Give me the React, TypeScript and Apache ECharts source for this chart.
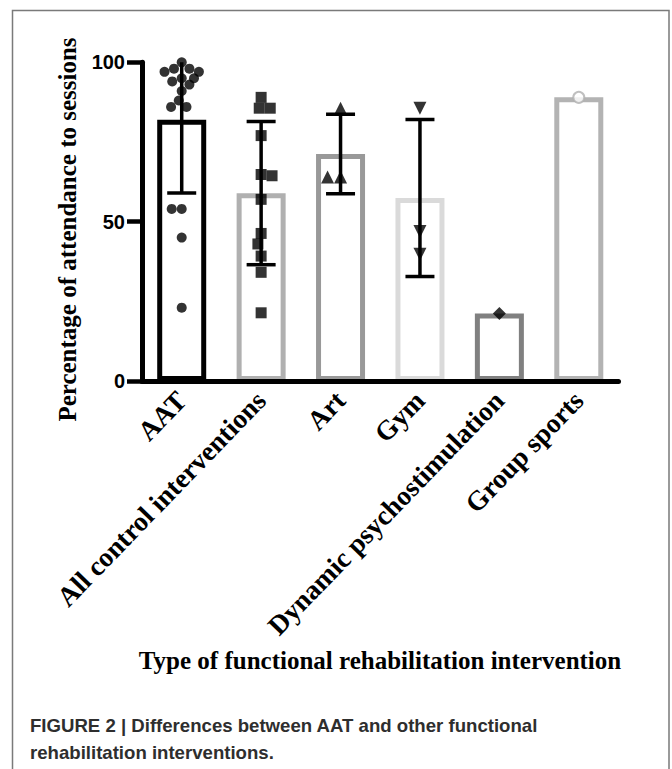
import React, { useEffect, useRef } from "react";
import * as echarts from "echarts";

const categories = [
  "AAT",
  "All control interventions",
  "Art",
  "Gym",
  "Dynamic psychostimulation",
  "Group sports",
];
const aatValues = [100, 98, 98, 97, 97, 95, 95, 94, 93, 91, 88, 86, 86, 54, 54, 45, 23];
const controlValues = [89, 85.6, 85.6, 77, 64.8, 64.4, 57, 46.3, 43, 39.2, 34.1, 21.4];
const artValues = [85.6, 64, 64];
const gymValues = [85.6, 46.9, 39.8];
const dynamicValues = [21.2];
const groupSportsValues = [89];
const yTicks = [0, 50, 100];

const groups = [aatValues, controlValues, artValues, gymValues, dynamicValues, groupSportsValues];
const barColors = ["#000000", "#b0b0b0", "#999999", "#dadada", "#808080", "#b3b3b3"];

const mean = (a: number[]) => a.reduce((s, v) => s + v, 0) / a.length;
const sd = (a: number[]) => {
  if (a.length < 2) return 0;
  const m = mean(a);
  return Math.sqrt(a.reduce((s, v) => s + (v - m) * (v - m), 0) / (a.length - 1));
};

const SERIF = "'Liberation Serif', 'Times New Roman', serif";
const SANS = "'Liberation Sans', Arial, sans-serif";

export default function App() {
  const ref = useRef<HTMLDivElement>(null);
  useEffect(() => {
    if (!ref.current) return;
    const chart = echarts.init(ref.current, undefined, { renderer: "svg" });

    const barData = groups.map((g, i) => ({
      value: mean(g),
      itemStyle: { color: "#ffffff", borderColor: barColors[i], borderWidth: 5 },
    }));
    const errData = groups
      .map((g, i) => [i, mean(g), sd(g), g.length])
      .filter((d) => d[3] > 1);

    const scatter = (idx: number, symbol: string, size: number, extra: any = {}) => ({
      type: "scatter",
      data: groups[idx].map((v) => [idx, v]),
      symbol,
      symbolSize: size,
      clip: false,
      itemStyle: { color: "#000" },
      z: 5,
      ...extra,
    });

    const textStyle = (text: string, family: string, size: number, fill: string, align: string) => ({
      text,
      fontFamily: family,
      fontWeight: "bold",
      fontSize: size,
      fill,
      align,
      verticalAlign: "middle",
      textAlign: align,
      textVerticalAlign: "middle",
    });

    const option: any = {
      animation: false,
      backgroundColor: "#ffffff",
      grid: { left: 142, right: 53.5, top: 62.3, bottom: 388, containLabel: false },
      xAxis: {
        type: "category",
        data: categories,
        z: 10,
        jitter: 40,
        jitterOverlap: false,
        jitterMargin: 0,
        axisLine: { lineStyle: { color: "#000", width: 5 } },
        axisTick: { alignWithLabel: true, length: 12, lineStyle: { color: "#000", width: 4.5 } },
        axisLabel: {
          interval: 0,
          rotate: 46,
          margin: 15,
          fontFamily: SERIF,
          fontWeight: "bold",
          fontSize: 27.5,
          color: "#000",
        },
      },
      yAxis: {
        type: "value",
        min: yTicks[0],
        max: yTicks[yTicks.length - 1],
        interval: 50,
        z: 10,
        axisLine: { show: true, lineStyle: { color: "#000", width: 5 } },
        axisTick: { show: true, length: 15, lineStyle: { color: "#000", width: 4.5 } },
        axisLabel: { margin: 17, fontFamily: SANS, fontWeight: "bold", fontSize: 20, color: "#000" },
        splitLine: { show: false },
      },
      series: [
        { type: "bar", data: barData, barWidth: 49, z: 2 },
        {
          type: "custom",
          data: errData,
          clip: true,
          z: 4,
          encode: { x: 0, y: 1 },
          renderItem: (params: any, api: any) => {
            const i = api.value(0);
            const m = api.value(1);
            const s = api.value(2);
            const top = api.coord([i, m + s]);
            const bot = api.coord([i, m - s]);
            const x = top[0];
            const half = 14.5;
            const style = { stroke: "#000", lineWidth: 3.5 };
            return {
              type: "group",
              children: [
                { type: "line", shape: { x1: x, y1: top[1], x2: x, y2: bot[1] }, style },
                { type: "line", shape: { x1: x - half, y1: top[1], x2: x + half, y2: top[1] }, style },
                { type: "line", shape: { x1: x - half, y1: bot[1], x2: x + half, y2: bot[1] }, style },
              ],
            };
          },
        },
        scatter(0, "circle", 10),
        scatter(1, "rect", 11),
        scatter(2, "triangle", 13),
        scatter(3, "triangle", 13, { symbolRotate: 180 }),
        scatter(4, "diamond", 13),
        scatter(5, "emptyCircle", 11, { itemStyle: { color: "#b0b0b0", borderWidth: 2.5 } }),
      ],
      graphic: [
        {
          type: "rect",
          shape: { x: 12.5, y: 10.5, width: 656.5, height: 800 },
          style: { fill: "none", stroke: "#7a7a7a", lineWidth: 1.5 },
          silent: true,
        },
        {
          type: "text",
          x: 67,
          y: 229.5,
          rotation: Math.PI / 2,
          style: textStyle("Percentage of attendance to sessions", SERIF, 25, "#000", "center"),
        },
        {
          type: "text",
          x: 380,
          y: 660,
          style: textStyle("Type of functional rehabilitation intervention", SERIF, 25, "#000", "center"),
        },
        {
          type: "text",
          x: 30,
          y: 725.5,
          style: textStyle("FIGURE 2 | Differences between AAT and other functional", SANS, 18.6, "#2e2e2e", "left"),
        },
        {
          type: "text",
          x: 30,
          y: 752,
          style: textStyle("rehabilitation interventions.", SANS, 18.6, "#2e2e2e", "left"),
        },
      ],
    };
    chart.setOption(option);
    return () => chart.dispose();
  }, []);
  return (
    <div
      ref={ref}
      style={{ position: "fixed", left: 0, top: 0, width: 672, height: 769, background: "#fff" }}
    />
  );
}
